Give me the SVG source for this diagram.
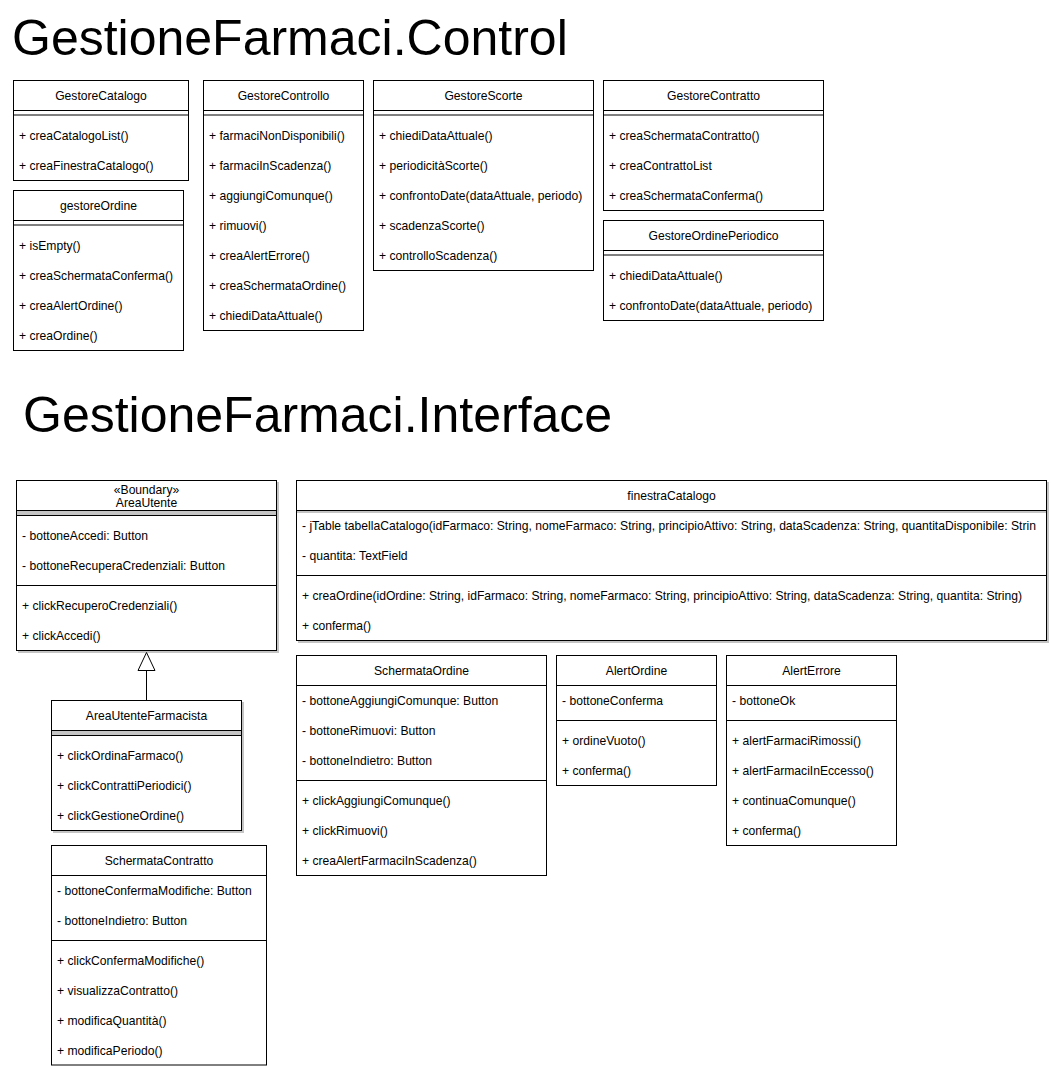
<svg xmlns="http://www.w3.org/2000/svg" width="1051" height="1066" viewBox="0 0 1051 1066">
<style>
text{font-family:"Liberation Sans",Arial,Helvetica,sans-serif;font-size:12.13px;fill:#000}
.t{font-size:50px}
.c{text-anchor:middle}
.box{fill:#fff;stroke:#000;stroke-width:1}
.ln{stroke:#000;stroke-width:1;fill:none}
.sh{fill:#c4c4c4;stroke:none}
</style>
<defs>
<clipPath id="clipFin"><rect x="297" y="481" width="739" height="159"/></clipPath>
</defs>
<rect width="1051" height="1066" fill="#fff"/>
<text class="t" x="12" y="55">GestioneFarmaci.Control</text>
<text class="t" x="23" y="432">GestioneFarmaci.Interface</text>

<g id="GestoreCatalogo">
<rect class="box" x="13.5" y="80.5" width="175" height="100"/>
<line class="ln" x1="13.5" y1="110.5" x2="188.5" y2="110.5"/>
<line class="ln" x1="13.5" y1="115" x2="188.5" y2="115"/>
<text class="c" x="101" y="100">GestoreCatalogo</text>
<text x="19" y="140">+ creaCatalogoList()</text>
<text x="19" y="170">+ creaFinestraCatalogo()</text>
</g>

<g id="gestoreOrdine">
<rect class="box" x="13.5" y="190.5" width="170" height="160"/>
<line class="ln" x1="13.5" y1="220.5" x2="183.5" y2="220.5"/>
<line class="ln" x1="13.5" y1="225" x2="183.5" y2="225"/>
<text class="c" x="98.5" y="210">gestoreOrdine</text>
<text x="19" y="250">+ isEmpty()</text>
<text x="19" y="280">+ creaSchermataConferma()</text>
<text x="19" y="310">+ creaAlertOrdine()</text>
<text x="19" y="340">+ creaOrdine()</text>
</g>

<g id="GestoreControllo">
<rect class="box" x="203.5" y="80.5" width="160" height="250"/>
<line class="ln" x1="203.5" y1="110.5" x2="363.5" y2="110.5"/>
<line class="ln" x1="203.5" y1="115" x2="363.5" y2="115"/>
<text class="c" x="283.5" y="100">GestoreControllo</text>
<text x="209" y="140">+ farmaciNonDisponibili()</text>
<text x="209" y="170">+ farmaciInScadenza()</text>
<text x="209" y="200">+ aggiungiComunque()</text>
<text x="209" y="230">+ rimuovi()</text>
<text x="209" y="260">+ creaAlertErrore()</text>
<text x="209" y="290">+ creaSchermataOrdine()</text>
<text x="209" y="320">+ chiediDataAttuale()</text>
</g>

<g id="GestoreScorte">
<rect class="box" x="373.5" y="80.5" width="220" height="190"/>
<line class="ln" x1="373.5" y1="110.5" x2="593.5" y2="110.5"/>
<line class="ln" x1="373.5" y1="115" x2="593.5" y2="115"/>
<text class="c" x="483.5" y="100">GestoreScorte</text>
<text x="379" y="140">+ chiediDataAttuale()</text>
<text x="379" y="170">+ periodicitàScorte()</text>
<text x="379" y="200">+ confrontoDate(dataAttuale, periodo)</text>
<text x="379" y="230">+ scadenzaScorte()</text>
<text x="379" y="260">+ controlloScadenza()</text>
</g>

<g id="GestoreContratto">
<rect class="box" x="603.5" y="80.5" width="220" height="130"/>
<line class="ln" x1="603.5" y1="110.5" x2="823.5" y2="110.5"/>
<line class="ln" x1="603.5" y1="115" x2="823.5" y2="115"/>
<text class="c" x="713.5" y="100">GestoreContratto</text>
<text x="609" y="140">+ creaSchermataContratto()</text>
<text x="609" y="170">+ creaContrattoList</text>
<text x="609" y="200">+ creaSchermataConferma()</text>
</g>

<g id="GestoreOrdinePeriodico">
<rect class="box" x="603.5" y="220.5" width="220" height="100"/>
<line class="ln" x1="603.5" y1="250.5" x2="823.5" y2="250.5"/>
<line class="ln" x1="603.5" y1="255" x2="823.5" y2="255"/>
<text class="c" x="713.5" y="240">GestoreOrdinePeriodico</text>
<text x="609" y="280">+ chiediDataAttuale()</text>
<text x="609" y="310">+ confrontoDate(dataAttuale, periodo)</text>
</g>

<g id="AreaUtente">
<rect class="sh" x="18" y="482" width="261" height="171"/>
<rect class="box" x="16.5" y="480.5" width="260" height="170"/>
<rect class="sh" x="17" y="511" width="259" height="4"/>
<line class="ln" x1="16.5" y1="510.5" x2="276.5" y2="510.5"/>
<line class="ln" x1="16.5" y1="515.5" x2="276.5" y2="515.5"/>
<text class="c" x="146.5" y="494">«Boundary»</text>
<text class="c" x="146.5" y="507">AreaUtente</text>
<text x="22" y="540">- bottoneAccedi: Button</text>
<text x="22" y="570">- bottoneRecuperaCredenziali: Button</text>
<line class="ln" x1="16.5" y1="585.5" x2="276.5" y2="585.5"/>
<text x="22" y="610">+ clickRecuperoCredenziali()</text>
<text x="22" y="640">+ clickAccedi()</text>
</g>

<g id="AreaUtenteFarmacista">
<rect class="sh" x="53" y="702" width="191" height="131"/>
<rect class="box" x="51.5" y="700.5" width="190" height="130"/>
<rect class="sh" x="52" y="731" width="189" height="4"/>
<line class="ln" x1="51.5" y1="730.5" x2="241.5" y2="730.5"/>
<line class="ln" x1="51.5" y1="735.5" x2="241.5" y2="735.5"/>
<text class="c" x="146.5" y="720">AreaUtenteFarmacista</text>
<text x="57" y="760">+ clickOrdinaFarmaco()</text>
<text x="57" y="790">+ clickContrattiPeriodici()</text>
<text x="57" y="820">+ clickGestioneOrdine()</text>
</g>

<g id="SchermataContratto">
<rect class="box" x="51.5" y="845.5" width="215" height="219.5"/>
<line class="ln" x1="51.5" y1="875.5" x2="266.5" y2="875.5"/>
<text class="c" x="159" y="865">SchermataContratto</text>
<text x="57" y="895">- bottoneConfermaModifiche: Button</text>
<text x="57" y="925">- bottoneIndietro: Button</text>
<line class="ln" x1="51.5" y1="940.5" x2="266.5" y2="940.5"/>
<text x="57" y="965">+ clickConfermaModifiche()</text>
<text x="57" y="995">+ visualizzaContratto()</text>
<text x="57" y="1025">+ modificaQuantità()</text>
<text x="57" y="1055">+ modificaPeriodo()</text>
</g>

<g id="finestraCatalogo">
<rect class="sh" x="298" y="482" width="751" height="161"/>
<rect class="box" x="296.5" y="480.5" width="750" height="160"/>
<rect class="sh" x="297" y="511" width="749" height="2"/>
<line class="ln" x1="296.5" y1="510.5" x2="1046.5" y2="510.5"/>
<text class="c" x="671.5" y="500">finestraCatalogo</text>
<g clip-path="url(#clipFin)">
<text x="302" y="530">- jTable tabellaCatalogo(idFarmaco: String, nomeFarmaco: String, principioAttivo: String, dataScadenza: String, quantitaDisponibile: String)</text>
</g>
<text x="302" y="560">- quantita: TextField</text>
<line class="ln" x1="296.5" y1="575.5" x2="1046.5" y2="575.5"/>
<text x="302" y="600">+ creaOrdine(idOrdine: String, idFarmaco: String, nomeFarmaco: String, principioAttivo: String, dataScadenza: String, quantita: String)</text>
<text x="302" y="630">+ conferma()</text>
</g>

<g id="SchermataOrdine">
<rect class="box" x="296.5" y="655.5" width="250" height="220"/>
<line class="ln" x1="296.5" y1="685.5" x2="546.5" y2="685.5"/>
<text class="c" x="421.5" y="675">SchermataOrdine</text>
<text x="302" y="705">- bottoneAggiungiComunque: Button</text>
<text x="302" y="735">- bottoneRimuovi: Button</text>
<text x="302" y="765">- bottoneIndietro: Button</text>
<line class="ln" x1="296.5" y1="780.5" x2="546.5" y2="780.5"/>
<text x="302" y="805">+ clickAggiungiComunque()</text>
<text x="302" y="835">+ clickRimuovi()</text>
<text x="302" y="865">+ creaAlertFarmaciInScadenza()</text>
</g>

<g id="AlertOrdine">
<rect class="box" x="556.5" y="655.5" width="160" height="130"/>
<line class="ln" x1="556.5" y1="685.5" x2="716.5" y2="685.5"/>
<text class="c" x="636.5" y="675">AlertOrdine</text>
<text x="562" y="705">- bottoneConferma</text>
<line class="ln" x1="556.5" y1="720.5" x2="716.5" y2="720.5"/>
<text x="562" y="745">+ ordineVuoto()</text>
<text x="562" y="775">+ conferma()</text>
</g>

<g id="AlertErrore">
<rect class="box" x="726.5" y="655.5" width="170" height="190"/>
<line class="ln" x1="726.5" y1="685.5" x2="896.5" y2="685.5"/>
<text class="c" x="811.5" y="675">AlertErrore</text>
<text x="732" y="705">- bottoneOk</text>
<line class="ln" x1="726.5" y1="720.5" x2="896.5" y2="720.5"/>
<text x="732" y="745">+ alertFarmaciRimossi()</text>
<text x="732" y="775">+ alertFarmaciInEccesso()</text>
<text x="732" y="805">+ continuaComunque()</text>
<text x="732" y="835">+ conferma()</text>
</g>

<g id="connectors">
<line class="ln" x1="146.5" y1="700" x2="146.5" y2="671"/>
<polygon points="146.5,652.5 138,670.5 155,670.5" fill="#fff" stroke="#000" stroke-width="1"/>
</g>
</svg>
